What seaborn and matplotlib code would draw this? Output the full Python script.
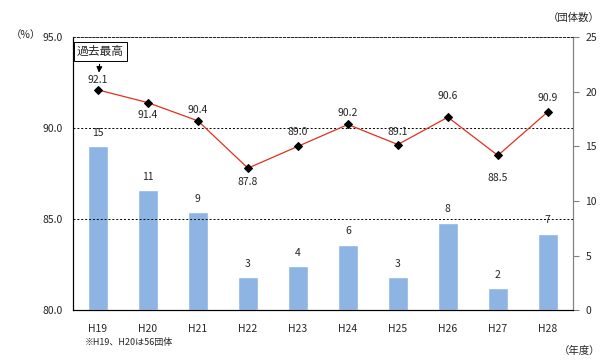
import seaborn as sns
import matplotlib.pyplot as plt
import pandas as pd

years = ['H19', 'H20', 'H21', 'H22', 'H23', 'H24', 'H25', 'H26', 'H27', 'H28']
counts = [15, 11, 9, 3, 4, 6, 3, 8, 2, 7]
rates = [92.1, 91.4, 90.4, 87.8, 89.0, 90.2, 89.1, 90.6, 88.5, 90.9]

# vertical offset (points) of each rate label from its point
label_offsets = [7, -9, 8, -10, 10, 8, 9, 15, -16, 10]

sns.set_style('white')
plt.rcParams['font.family'] = ['Noto Sans CJK JP', 'DejaVu Sans']
plt.rcParams['font.size'] = 7.5

df = pd.DataFrame({'year': years, 'count': counts, 'rate': rates})

fig = plt.figure(figsize=(6.03, 3.64), dpi=100)
ax = fig.add_axes([0.121, 0.148, 0.829, 0.750])

# bars on the right-hand scale
sns.barplot(data=df, x='year', y='count', color='#8DB4E2', saturation=1,
            width=0.4, ax=ax, zorder=2)
ax.set_ylim(0, 25)
ax.set_yticks(range(0, 26, 5))
ax.set_xlabel('')
ax.set_ylabel('')
for i, c in enumerate(counts):
    ax.annotate(str(c), (i, c), xytext=(0, 6), textcoords='offset points',
                ha='center', va='bottom', fontsize=7.5)

ax2 = ax.twinx()
ax.yaxis.tick_right()
ax2.yaxis.tick_left()
sns.lineplot(data=df, x='year', y='rate', color='#E0301E', linewidth=0.9,
             marker='D', markersize=4.5, markerfacecolor='black',
             markeredgecolor='black', ax=ax2, zorder=3)
ax2.set_ylim(80, 95)
ax2.set_yticks([80, 85, 90, 95])
ax2.set_yticklabels([f'{v:.1f}' for v in [80, 85, 90, 95]])
ax2.set_ylabel('')
ax2.set_xlabel('')
for i, r in enumerate(rates):
    off = label_offsets[i]
    ax2.annotate(f'{r:.1f}', (i, r), xytext=(0, off), textcoords='offset points',
                 ha='center', va='center', fontsize=7.5)

for y in [85, 90]:
    ax2.axhline(y, color='black', linestyle=(0, (2, 2)), linewidth=0.7, zorder=1)

ax.set_xlim(-0.5, len(years) - 0.5)
ax.set_xticks([i + 0.5 for i in range(-1, len(years))], minor=True)
ax.tick_params(axis='x', which='major', length=0, pad=10)
ax.tick_params(axis='x', which='minor', length=3, direction='in', color='black')
ax.tick_params(axis='y', length=4, direction='out', color='#808080', pad=5)
ax2.tick_params(axis='y', length=0, pad=7)

for a in (ax, ax2):
    a.spines['top'].set_linestyle((0, (2, 2)))
    a.spines['top'].set_linewidth(0.7)
    a.spines['left'].set_color('black')
    a.spines['bottom'].set_color('black')
    a.spines['right'].set_color('#808080')

ax2.annotate('過去最高', xy=(0.02, 93.05), xytext=(-0.42, 94.2),
             fontsize=8.5, ha='left', va='center',
             bbox=dict(boxstyle='square,pad=0.25', fc='white', ec='black', lw=0.7),
             arrowprops=dict(arrowstyle='-|>', color='black', lw=0.8,
                             shrinkA=2, shrinkB=0))

fig.text(0.018, 0.905, '（%）', fontsize=7.5, va='center')
fig.text(0.995, 0.95, '（団体数）', fontsize=7.5, va='center', ha='right')
fig.text(0.995, 0.035, '（年度）', fontsize=7.5, va='center', ha='right')
fig.text(0.14, 0.058, '※H19、H20は56団体', fontsize=6.5, va='center')

plt.savefig('out.png', dpi=100)
